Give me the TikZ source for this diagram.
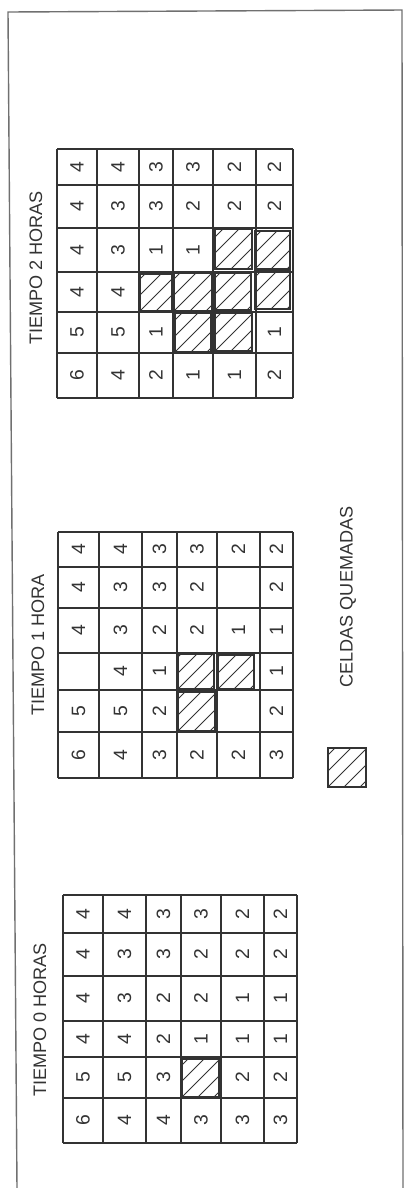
\documentclass[tikz,border=0pt]{standalone}
\usepackage{fontspec}
\setmainfont{Liberation Sans}
\definecolor{ink}{HTML}{333333}
% burnt cell: box plus clipped diagonal hatching
\newcommand{\burncell}[4]{%
  \draw[hatchbox] (#1,#2) rectangle (#3,#4);
  \begin{scope}
    \clip (#1,#2) rectangle (#3,#4);
    \foreach \s in {-32,-16,0,16,32}
      \draw[hatchline] ({#1+\s},#4) -- ++(45,-45);
  \end{scope}}
\begin{document}
\begin{tikzpicture}[x=0.02cm, y=-0.02cm, every node/.style={text=ink}]
\tikzset{
  gridline/.style={draw=ink, line width=0.6pt},
  midline/.style={draw=ink, line width=0.9pt},
  num/.style={font=\fontsize{11}{13}\selectfont, rotate=90, inner sep=0pt},
  title/.style={font=\fontsize{10.3}{12}\selectfont, rotate=90, inner sep=0pt},
  hatchbox/.style={draw=ink, line width=0.6pt},
  hatchline/.style={draw=ink, line width=0.45pt},
  frame/.style={draw=ink!70, line width=0.8pt}
}
\useasboundingbox (0,0) rectangle (407,1188);
\draw[frame] (17,1188) -- (8,12) -- (402,10) -- (403,1188);

% tiempo 0 horas
\node[title] (t0) at (40,1020) {TIEMPO 0 HORAS};
\foreach \x in {63,103,146,221,264,297} \draw[gridline] (\x,895) -- (\x,1143);
\draw[midline] (181,895) -- (181,1143);
\foreach \y in {895,933,976,1057,1098,1143} \draw[gridline] (63,\y) -- (297,\y);
\draw[midline] (63,1021) -- (297,1021);
\foreach \cx/\col [count=\i] in {83/{6,5,4,4,4,4}, 124.5/{4,5,4,3,3,4}, 163.5/{4,3,2,2,3,3},
    201/{3,-,1,2,2,3}, 242.5/{3,2,1,1,2,2}, 280.5/{3,2,1,1,2,2}}
  \foreach \v [count=\j] in \col {
    \pgfmathsetmacro{\cy}{{1120.5,1077.5,1039,998.5,954.5,914}[\j-1]}
    \if-\v\else\node[num] (h0-\i-\j) at (\cx,\cy) {\v};\fi
  }
\burncell{182}{1059}{219}{1097}

% tiempo 1 hora
\node[title] (t1) at (38,645) {TIEMPO 1 HORA};
\foreach \x in {58,99,142,217,260,293} \draw[gridline] (\x,532) -- (\x,778);
\draw[midline] (177,532) -- (177,778);
\foreach \y in {532,567,608,690,732,778} \draw[gridline] (58,\y) -- (293,\y);
\draw[midline] (58,653) -- (293,653);
\foreach \cx/\col [count=\i] in {78.5/{6,5,-,4,4,4}, 120.5/{4,5,4,3,3,4}, 159.5/{3,2,1,2,3,3},
    197/{2,-,-,2,2,3}, 238.5/{2,-,-,1,-,2}, 276.5/{3,2,1,1,2,2}}
  \foreach \v [count=\j] in \col {
    \pgfmathsetmacro{\cy}{{755,711,671.5,630.5,587.5,549.5}[\j-1]}
    \if-\v\else\node[num] (h1-\i-\j) at (\cx,\cy) {\v};\fi
  }
\foreach \a/\b/\c/\d in {178/692/215/731, 178/654/214/689, 218/655/254/689}
  \burncell{\a}{\b}{\c}{\d};

% tiempo 2 horas
\node[title] (t2) at (36,268) {TIEMPO 2 HORAS};
\foreach \x in {57,97,139,213,256,293} \draw[gridline] (\x,149) -- (\x,398);
\draw[midline] (173,149) -- (173,398);
\foreach \y in {149,185,228,312,353,398} \draw[gridline] (57,\y) -- (293,\y);
\draw[midline] (57,272) -- (293,272);
\foreach \cx/\col [count=\i] in {77/{6,5,4,4,4,4}, 118/{4,5,4,3,3,4}, 156/{2,1,-,1,3,3},
    193/{1,-,-,1,2,3}, 234.5/{1,-,-,-,2,2}, 274.5/{2,1,-,-,2,2}}
  \foreach \v [count=\j] in \col {
    \pgfmathsetmacro{\cy}{{375.5,332.5,292,250,206.5,167}[\j-1]}
    \if-\v\else\node[num] (h2-\i-\j) at (\cx,\cy) {\v};\fi
  }
\foreach \a/\b/\c/\d in {140/274/172/311, 175/313/211/352, 174/273/212/311, 215/313/252/351,
    215/273/251/310, 215/229/252/269, 255/271/290/309, 255/231/290/269}
  \burncell{\a}{\b}{\c}{\d};

% legend
\burncell{328}{748}{366}{787}
\node[title] (legend) at (348,597) {CELDAS QUEMADAS};
\end{tikzpicture}
\end{document}
